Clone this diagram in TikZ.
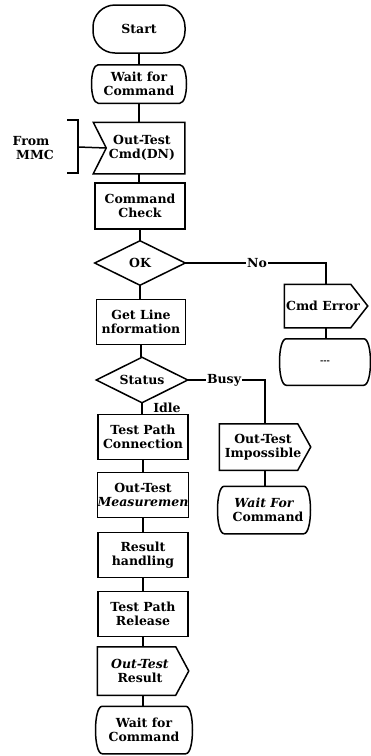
\documentclass[tikz,border=0pt]{standalone}
\usepackage{fontspec}
\setmainfont{DejaVu Serif}
\newcommand\WaitOutline[1]{%
  \draw ([xshift=5pt]#1.north west) -- ([xshift=-5pt]#1.north east)
    .. controls ([xshift=4pt]#1.north east) and ([xshift=4pt]#1.south east) .. ([xshift=-5pt]#1.south east)
    -- ([xshift=5pt]#1.south west)
    .. controls ([xshift=-4pt]#1.south west) and ([xshift=-4pt]#1.north west) .. cycle;}
\newcommand\SendOutline[2]{%
  \draw (#1.north west) -- ([xshift=-#2]#1.north east) -- (#1.east) -- ([xshift=-#2]#1.south east) -- (#1.south west) -- cycle;}
\newcommand\DiamondOutline[1]{%
  \draw (#1.west) -- (#1.north) -- (#1.east) -- (#1.south) -- cycle;}
\begin{document}
\begin{tikzpicture}[x=1pt,y=-1pt, line width=1.5pt,
  txt/.style={font=\fontsize{12.5}{14}\selectfont\bfseries, align=center, inner sep=0pt},
  box/.style={txt, draw, rectangle, minimum width=90pt, minimum height=45pt},
  ghost/.style={txt, rectangle, minimum width=90pt, minimum height=45pt},
  lbl/.style={txt, fill=white, inner sep=1pt},
]
\useasboundingbox (0,0) rectangle (370,756);
% main column
\node[txt, draw, rounded corners=22pt, minimum width=92pt, minimum height=48pt] (start) at (139,29) {Start};
\node[ghost, minimum height=37pt] (wait1) at (139,84) {Wait for\\Command};
\WaitOutline{wait1}
\node[ghost, minimum height=50pt, text width=80pt] (rx) at (139,148) {\hspace*{6pt}Out-Test\\\hspace*{6pt}Cmd(DN)};
\draw (rx.north west) -- (rx.north east) -- (rx.south east) -- (rx.south west) -- ([xshift=13pt]rx.west) -- cycle;
\node[box, minimum height=46pt] (cc) at (140,206) {Command\\Check};
\node[ghost, minimum width=89pt, minimum height=43pt] (ok) at (140,263) {OK};
\DiamondOutline{ok}
\node[box, minimum width=89pt] (gl) at (141,322) {Get Line\\nformation};
\node[ghost, minimum height=44pt] (st) at (142,380) {Status};
\DiamondOutline{st}
\node[box] (tpc) at (143,437) {Test Path\\Connection};
\node[box] (meas) at (143,495) {Out-Test\\{\itshape Measuremen}};
\node[box] (res) at (143,555) {Result\\handling};
\node[box] (rel) at (143,614) {Test Path\\Release};
\node[ghost, minimum height=47pt] (otr) at (143,671) {\hspace*{-6pt}{\itshape Out-Test}\\\hspace*{-6pt}Result};
\SendOutline{otr}{13pt}
\node[ghost, minimum width=92pt, minimum height=46pt] (wait2) at (144,730) {Wait for\\Command};
\WaitOutline{wait2}
% right branch
\node[ghost, minimum width=82pt, minimum height=42pt] (ce) at (326,306) {\hspace*{-6pt}Cmd Error};
\SendOutline{ce}{17pt}
\node[ghost, minimum width=86pt, minimum height=45pt, font=\fontsize{8}{8}\selectfont\bfseries] (dots) at (325,362) {-{}-{}-};
\WaitOutline{dots}
\node[ghost] (oti) at (265,447) {\hspace*{-4pt}Out-Test\\\hspace*{-4pt}Impossible};
\SendOutline{oti}{13pt}
\node[ghost, minimum width=88pt, minimum height=46pt] (wait3) at (264,510) {{\itshape Wait For}\\\hspace*{8pt}Command};
\WaitOutline{wait3}
% from MMC
\node[txt] (from) at (31,148) {From\\\hspace*{8pt}MMC};
\coordinate (brt) at (67,120);
\coordinate (brb) at (67,173);
\coordinate (brm) at (78,147);
\draw (brt) -- (78,120) -- (78,173) -- (brb);
\draw (brm) -- ([xshift=13pt]rx.west);
% connectors
\draw (start.south) -- (start.south |- wait1.north);
\draw (wait1.south) -- (wait1.south |- rx.north);
\draw (rx.south) -- (rx.south |- cc.north);
\draw (cc.south) -- (cc.south |- ok.north);
\draw (ok.south) -- (ok.south |- gl.north);
\draw (gl.south) -- (gl.south |- st.north);
\draw (st.south) -- (st.south |- tpc.north);
\draw (tpc.south) -- (tpc.south |- meas.north);
\draw (meas.south) -- (meas.south |- res.north);
\draw (res.south) -- (res.south |- rel.north);
\draw (rel.south) -- (rel.south |- otr.north);
\draw (otr.south) -- (otr.south |- wait2.north);
\draw (ok.east) -- (ok.east -| ce.north) node[lbl, pos=0.51] {No} -- (ce.north);
\draw (ce.south) -- (ce.south |- dots.north);
\draw (st.east) -- (st.east -| oti.north) node[lbl, pos=0.47] {Busy} -- (oti.north);
\draw (oti.south) -- (oti.south |- wait3.north);
\node[txt] (idle) at (167,408) {Idle};
\end{tikzpicture}
\end{document}
